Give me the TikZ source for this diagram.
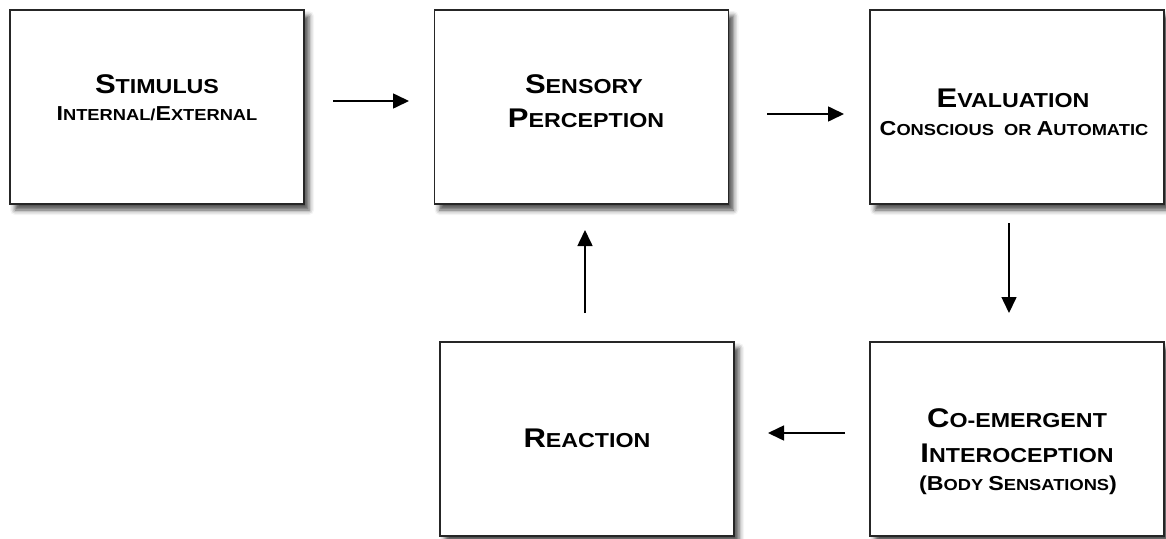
\documentclass[tikz,border=0pt]{standalone}
\usepackage{fontspec}
\setmainfont{Liberation Sans}
\newfontfamily\boxfont[FakeStretch=1.15]{Liberation Sans Bold}
\usetikzlibrary{arrows.meta,shadows.blur}
\newcommand\Lb{\fontsize{27}{34}\selectfont}
\newcommand\Ls{\fontsize{20.2}{34}\selectfont}
\newcommand\Sb{\fontsize{20.2}{28}\selectfont}
\newcommand\Ss{\fontsize{15.9}{28}\selectfont}
\tikzset{
  box/.style={draw=black!85, line width=1.4pt, fill=white, rectangle,
    minimum width=294pt, minimum height=194pt, inner sep=0pt,
    blur shadow={shadow xshift=5pt, shadow yshift=-6pt, shadow blur radius=5pt, shadow opacity=70}},
  txt/.style={align=center, inner sep=0pt, font=\boxfont, text=black},
  arr/.style={line width=1.6pt, -{Triangle[length=16pt,width=15pt]}}
}
\begin{document}
\begin{tikzpicture}[x=1pt,y=-1pt]
\useasboundingbox (0,0) rectangle (1166,538);
\node[box] (stim) at (157,107) {};
\node[box] (sens) at (581.5,107) {};
\node[box] (eval) at (1017,107) {};
\node[box] (coem) at (1017,439) {};
\node[box] (reac) at (587,439) {};

\node[txt, anchor=base] (stimA) at (157,93) {\Lb S\Ls TIMULUS};
\node[txt, anchor=base] (stimB) at (157,120) {\Sb I\Ss NTERNAL/\Sb E\Ss XTERNAL};

\node[txt, anchor=base] (sensA) at (584,93) {\Lb S\Ls ENSORY};
\node[txt, anchor=base] (sensB) at (586,127) {\Lb P\Ls ERCEPTION};

\node[txt, anchor=base] (evalA) at (1013,107) {\Lb E\Ls VALUATION};
\node[txt, anchor=base] (evalB) at (1014,135) {\Sb C\Ss ONSCIOUS\ \ OR \Sb A\Ss UTOMATIC};

\node[txt, anchor=base] (coemA) at (1017,427) {\Lb C\Ls O-EMERGENT};
\node[txt, anchor=base] (coemB) at (1017,462) {\Lb I\Ls NTEROCEPTION};
\node[txt, anchor=base] (coemC) at (1018,490) {\Sb (B\Ss ODY \Sb S\Ss ENSATIONS\Sb )};

\node[txt, anchor=base] (reacA) at (587,447) {\Lb R\Ls EACTION};

\coordinate (a1s) at (333,101); \coordinate (a1e) at (409,101);
\coordinate (a2s) at (767,114); \coordinate (a2e) at (844,114);
\coordinate (a3s) at (1009,223); \coordinate (a3e) at (1009,313);
\coordinate (a4s) at (845,433); \coordinate (a4e) at (768,433);
\coordinate (a5s) at (585,313); \coordinate (a5e) at (585,230);
\draw[arr] (a1s) -- (a1e);
\draw[arr] (a2s) -- (a2e);
\draw[arr] (a3s) -- (a3e);
\draw[arr] (a4s) -- (a4e);
\draw[arr] (a5s) -- (a5e);
\end{tikzpicture}
\end{document}
